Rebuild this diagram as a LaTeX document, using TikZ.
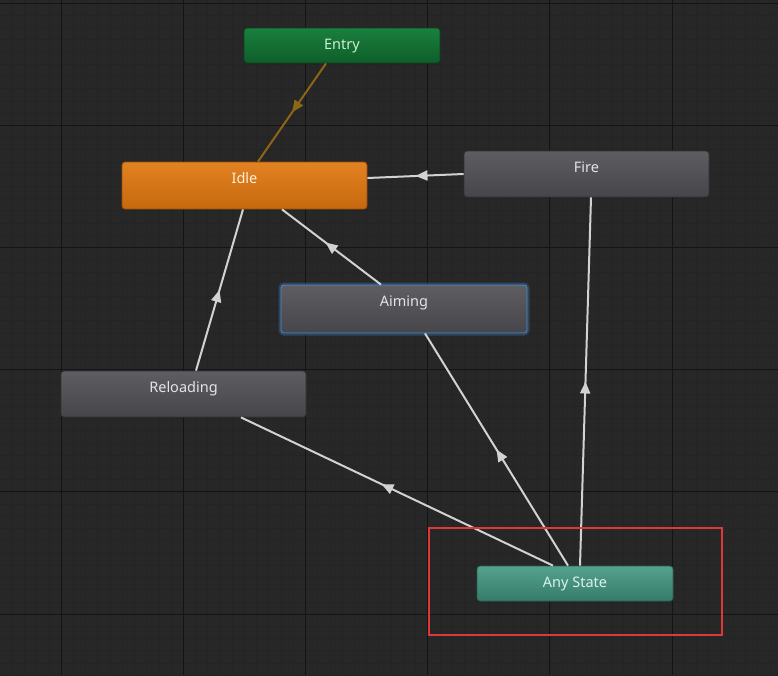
\documentclass[tikz,border=0pt]{standalone}
\usepackage{fontspec}
\setmainfont{Noto Sans}
\usetikzlibrary{arrows.meta,decorations.markings}
\definecolor{bgc}{RGB}{39,39,39}
\definecolor{minorc}{RGB}{36,36,36}
\definecolor{majorc}{RGB}{20,20,20}
\definecolor{entryT}{RGB}{26,128,62}
\definecolor{entryB}{RGB}{14,94,42}
\definecolor{entryE}{RGB}{10,66,30}
\definecolor{entryTxt}{RGB}{205,240,205}
\definecolor{idleT}{RGB}{226,130,34}
\definecolor{idleB}{RGB}{198,104,14}
\definecolor{idleE}{RGB}{150,75,10}
\definecolor{idleTxt}{RGB}{252,238,220}
\definecolor{grayT}{RGB}{94,94,98}
\definecolor{grayB}{RGB}{70,70,74}
\definecolor{grayE}{RGB}{50,50,54}
\definecolor{grayTxt}{RGB}{228,228,228}
\definecolor{anyT}{RGB}{84,162,142}
\definecolor{anyB}{RGB}{54,124,106}
\definecolor{anyE}{RGB}{40,95,80}
\definecolor{anyTxt}{RGB}{218,242,236}
\definecolor{glowc}{RGB}{70,140,210}
\definecolor{linec}{RGB}{210,210,210}
\definecolor{entryLine}{RGB}{140,102,22}
\definecolor{redc}{RGB}{222,56,56}
\tikzset{
  statebox/.style={rectangle, rounded corners=3pt, inner sep=0pt, line width=0.8pt},
  lbl/.style={anchor=base, yshift=-22pt, font=\fontsize{14.5}{16}\selectfont, inner sep=0pt},
  conn/.style={draw=linec, line width=2pt, postaction={decorate},
    decoration={markings, mark=at position #1 with {\arrow{Triangle[length=12pt,width=10pt]}}}},
  conn/.default=0.5,
}
\begin{document}
\begin{tikzpicture}[x=1pt,y=-1pt]
\fill[bgc] (0,0) rectangle (778,675);
\useasboundingbox (0,0) rectangle (778,675);
% minor grid
\foreach \i in {-4,...,58} {\draw[minorc, line width=0.5pt] ({61+\i*12.22},0) -- ({61+\i*12.22},675);}
\foreach \j in {0,...,55} {\draw[minorc, line width=0.5pt] (0,{3+\j*12.22}) -- (778,{3+\j*12.22});}
% major grid
\foreach \i in {0,...,5} {\draw[majorc, line width=1pt] ({61+\i*122.2},0) -- ({61+\i*122.2},675);}
\foreach \j in {0,...,5} {\draw[majorc, line width=1pt] (0,{3+\j*122.2}) -- (778,{3+\j*122.2});}

% states
\node[statebox, draw=entryE, top color=entryT, bottom color=entryB, minimum width=196pt, minimum height=35pt,
  label={[lbl, text=entryTxt]north:Entry}] (entry) at (342,45.5) {};
\node[statebox, draw=idleE, top color=idleT, bottom color=idleB, minimum width=245pt, minimum height=47pt,
  label={[lbl, text=idleTxt]north:Idle}] (idle) at (244.5,185.5) {};
\node[statebox, draw=grayE, top color=grayT, bottom color=grayB, minimum width=245pt, minimum height=46pt,
  label={[lbl, text=grayTxt]north:Fire}] (fire) at (586.5,174) {};
\node[statebox, draw=glowc, top color=grayT, bottom color=grayB, minimum width=246pt, minimum height=48pt,
  preaction={draw=glowc, line width=5pt, opacity=0.3},
  label={[lbl, text=grayTxt]north:Aiming}] (aiming) at (404,309) {};
\node[statebox, draw=grayE, top color=grayT, bottom color=grayB, minimum width=245pt, minimum height=46pt,
  label={[lbl, text=grayTxt]north:Reloading}] (reloading) at (183.5,394) {};
\node[statebox, draw=anyE, top color=anyT, bottom color=anyB, minimum width=196pt, minimum height=35pt,
  label={[lbl, text=anyTxt]north:Any State}] (any) at (575,583.5) {};

% transitions
\draw[conn, draw=entryLine] ([xshift=-16pt]entry.south) -- ([xshift=13.5pt]idle.north);
\draw[conn] (fire.west) -- ([yshift=7.5pt]idle.east);
\draw[conn=0.56] ([xshift=-23pt]aiming.north) -- ([xshift=37.5pt]idle.south);
\draw[conn] ([xshift=12.5pt]reloading.north) -- ([xshift=-1.5pt]idle.south);
\draw[conn=0.55] ([xshift=-22pt]any.north) -- ([xshift=57.5pt]reloading.south);
\draw[conn] ([xshift=-7pt]any.north) -- ([xshift=21pt]aiming.south);
\draw[conn] ([xshift=5pt]any.north) -- ([xshift=4.5pt]fire.south);

% highlight
\node[draw=redc, line width=2pt, rectangle, inner sep=0pt, minimum width=293pt, minimum height=107pt] (hl) at (575.5,581.5) {};
\end{tikzpicture}
\end{document}
